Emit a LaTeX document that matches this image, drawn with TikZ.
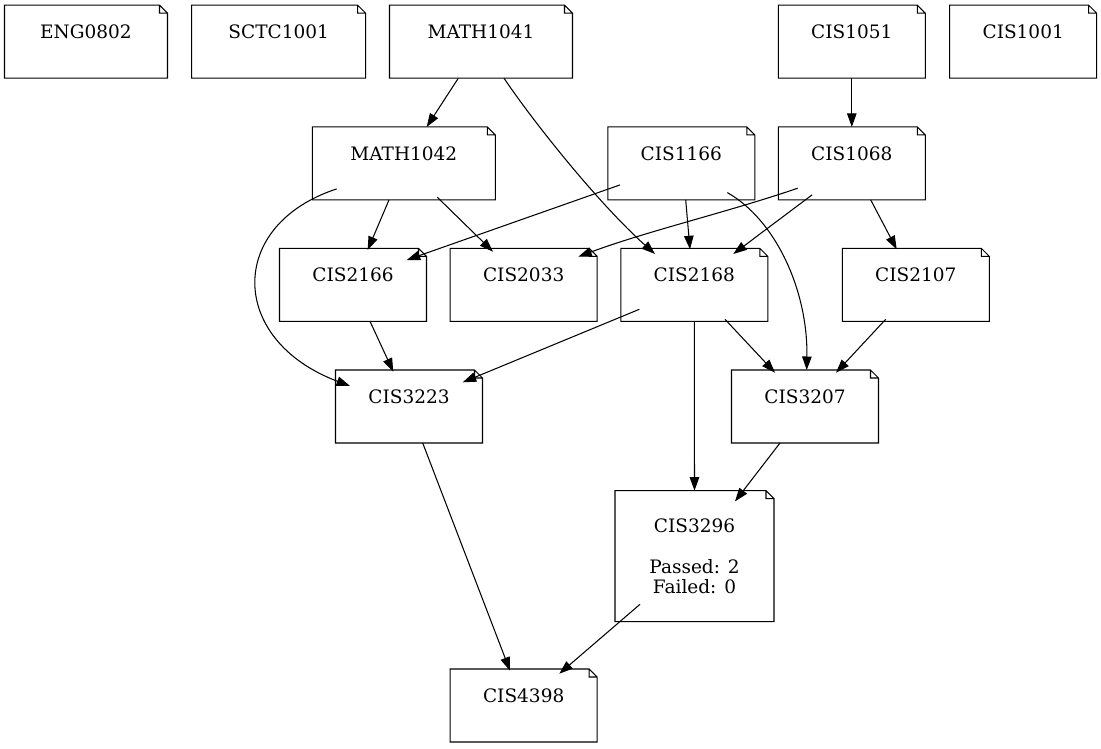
\documentclass[tikz,border=0pt]{standalone}
\usepackage{fontspec}
\setmainfont{DejaVu Serif}
\usetikzlibrary{arrows.meta,positioning}

\begin{document}
\begin{tikzpicture}[
    x=1pt, y=-1pt,
    note/.style={draw=none, inner sep=0pt, outer sep=0pt, align=center,
        minimum width=147pt, minimum height=73pt,
        font=\fontsize{18.5}{20.5}\selectfont},
    prereq/.style={-{Triangle[length=13.5pt,width=9.5pt]}, line width=1.05pt},
    line width=1.05pt
]
\useasboundingbox[fill=white] (0,0) rectangle (1101,748);

% courses, row by row
\node[note, minimum width=163pt] (eng0802) at (86,41.7) {ENG0802\\~};
\node[note, minimum width=174pt] (sctc1001) at (278.7,41.7) {SCTC1001\\~};
\node[note, minimum width=183pt] (math1041) at (481,41.7) {MATH1041\\~};
\node[note] (cis1051) at (851.8,41.7) {CIS1051\\~};
\node[note] (cis1001) at (1023.2,41.7) {CIS1001\\~};

\node[note, minimum width=183pt] (math1042) at (403.8,163.4) {MATH1042\\~};
\node[note] (cis1166) at (681.3,163.4) {CIS1166\\~};
\node[note] (cis1068) at (851.8,163.4) {CIS1068\\~};

\node[note] (cis2166) at (353,284.8) {CIS2166\\~};
\node[note] (cis2033) at (523.7,284.8) {CIS2033\\~};
\node[note] (cis2168) at (694.3,284.8) {CIS2168\\~};
\node[note] (cis2107) at (915.8,284.8) {CIS2107\\~};

\node[note] (cis3223) at (409,406.5) {CIS3223\\~};
\node[note] (cis3207) at (805,406.5) {CIS3207\\~};

\node[note, minimum width=159pt, minimum height=131pt] (cis3296) at (694.5,556.2)
    {CIS3296\\~\\Passed: 2\\Failed: 0};

\node[note] (cis4398) at (523.7,705.5) {CIS4398\\~};

% note outlines with folded corner
\foreach \n in {eng0802,sctc1001,math1041,cis1051,cis1001,math1042,cis1166,cis1068,
                cis2166,cis2033,cis2168,cis2107,cis3223,cis3207,cis3296,cis4398}
    \draw (\n.north west) -- ([xshift=-8pt]\n.north east) -- ([yshift=-8pt]\n.north east)
        -- (\n.south east) -- (\n.south west) -- cycle
        ([xshift=-8pt]\n.north east) |- ([yshift=-8pt]\n.north east);

% prerequisites
\draw[prereq] ([shift={(-22.7,0)}]math1041.south) -- ([shift={(22.9,0)}]math1042.north);
\draw[prereq] ([shift={(23,0)}]math1041.south) .. controls +(31,46) and +(-55,-49) .. ([shift={(-39.3,5.7)}]cis2168.north);
\draw[prereq] (cis1051.south) -- (cis1068.north);
\draw[prereq] ([shift={(-14.8,0)}]math1042.south) -- ([shift={(14.7,1.7)}]cis2166.north);
\draw[prereq] ([shift={(33.5,-2.7)}]math1042.south) -- ([shift={(-30.7,3.4)}]cis2033.north);
\draw[prereq] ([shift={(-67.1,-11)}]math1042.south) .. controls +(-110,36) and +(-122,-46) .. ([shift={(-59,16)}]cis3223.north);
\draw[prereq] ([shift={(-61.3,-15)}]cis1166.south) -- ([shift={(53.7,11.7)}]cis2166.north);
\draw[prereq] ([shift={(4.4,0)}]cis1166.south) -- ([shift={(-4.3,1)}]cis2168.north);
\draw[prereq] ([shift={(46,-7.3)}]cis1166.south) .. controls +(48,27) and +(1.3,-80) .. ([shift={(1.7,0)}]cis3207.north);
\draw[prereq] ([shift={(-54.1,-11.7)}]cis1068.south) .. controls +(-70,24) and +(70,-26) .. ([shift={(54.6,8.4)}]cis2033.north);
\draw[prereq] ([shift={(-39.8,-5)}]cis1068.south) -- ([shift={(39,5.7)}]cis2168.north);
\draw[prereq] ([shift={(18.9,0)}]cis1068.south) -- ([shift={(-19.1,1)}]cis2107.north);
\draw[prereq] ([shift={(17,0)}]cis2166.south) -- ([shift={(-15.7,1.7)}]cis3223.north);
\draw[prereq] ([shift={(-55,-12)}]cis2168.south) -- ([shift={(53.7,12.3)}]cis3223.north);
\draw[prereq] (cis2168.south) -- (cis3296.north);
\draw[prereq] ([shift={(30.7,-2)}]cis2168.south) -- ([shift={(-30,2.7)}]cis3207.north);
\draw[prereq] ([shift={(-30.1,-2)}]cis2107.south) -- ([shift={(31,2.7)}]cis3207.north);
\draw[prereq] ([shift={(13.7,0)}]cis3223.south) -- ([shift={(-13.7,1.7)}]cis4398.north);
\draw[prereq] ([shift={(-25,0)}]cis3207.south) -- ([shift={(40.5,10.7)}]cis3296.north);
\draw[prereq] ([shift={(-54.5,-17.4)}]cis3296.south) -- ([shift={(35.6,4.7)}]cis4398.north);

\end{tikzpicture}
\end{document}
